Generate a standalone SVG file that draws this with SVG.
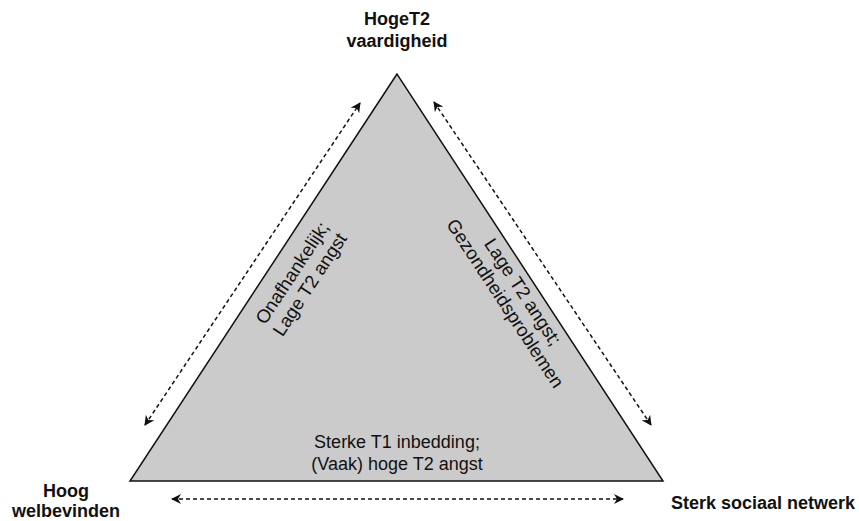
<svg xmlns="http://www.w3.org/2000/svg" width="859" height="521" viewBox="0 0 859 521">
<defs>
<marker id="ah" viewBox="0 0 10 10" refX="9" refY="5" markerWidth="10" markerHeight="10" markerUnits="userSpaceOnUse" orient="auto-start-reverse">
<path d="M0,0 L10,5 L0,10 L3,5 Z" fill="#111"/>
</marker>
<style>
.lbl{font-family:"Liberation Sans",Arial,sans-serif;font-size:18px;font-weight:bold;fill:#111;text-anchor:middle}
.txt{font-family:"Liberation Sans",Arial,sans-serif;font-size:18px;fill:#111;text-anchor:middle}
.rot{font-size:18.6px}
.arr{stroke:#111;stroke-width:1.5;stroke-dasharray:4 3;fill:none;marker-start:url(#ah);marker-end:url(#ah)}
</style>
</defs>
<rect width="859" height="521" fill="#fff"/>
<g id="triangle">
<polygon points="397,74 130,481 663,481" fill="#cbcbcb" stroke="#111" stroke-width="1.5" stroke-linejoin="miter"/>
</g>
<g id="connectors">
<line class="arr" x1="145" y1="425" x2="360" y2="103"/>
<line class="arr" x1="434" y1="102" x2="651" y2="425"/>
<line class="arr" x1="172" y1="499" x2="623" y2="499"/>
</g>
<g id="node-top">
<text class="lbl" x="397" y="25">HogeT2</text>
<text class="lbl" x="397" y="47">vaardigheid</text>
</g>
<g id="node-left">
<text class="lbl" x="66" y="497">Hoog</text>
<text class="lbl" x="66" y="517">welbevinden</text>
</g>
<g id="node-right">
<text class="lbl" x="763" y="509">Sterk sociaal netwerk</text>
</g>
<g id="label-left" transform="translate(300,278) rotate(-56.7)">
<text class="txt rot" x="0" y="-3">Onafhankelijk;</text>
<text class="txt rot" x="0" y="18">Lage T2 angst</text>
</g>
<g id="label-right" transform="translate(515,297) rotate(56.7)">
<text class="txt rot" x="0" y="-3">Lage T2 angst;</text>
<text class="txt rot" x="0" y="18">Gezondheidsproblemen</text>
</g>
<g id="label-bottom">
<text class="txt" x="397" y="448">Sterke T1 inbedding;</text>
<text class="txt" x="397" y="470">(Vaak) hoge T2 angst</text>
</g>
</svg>
